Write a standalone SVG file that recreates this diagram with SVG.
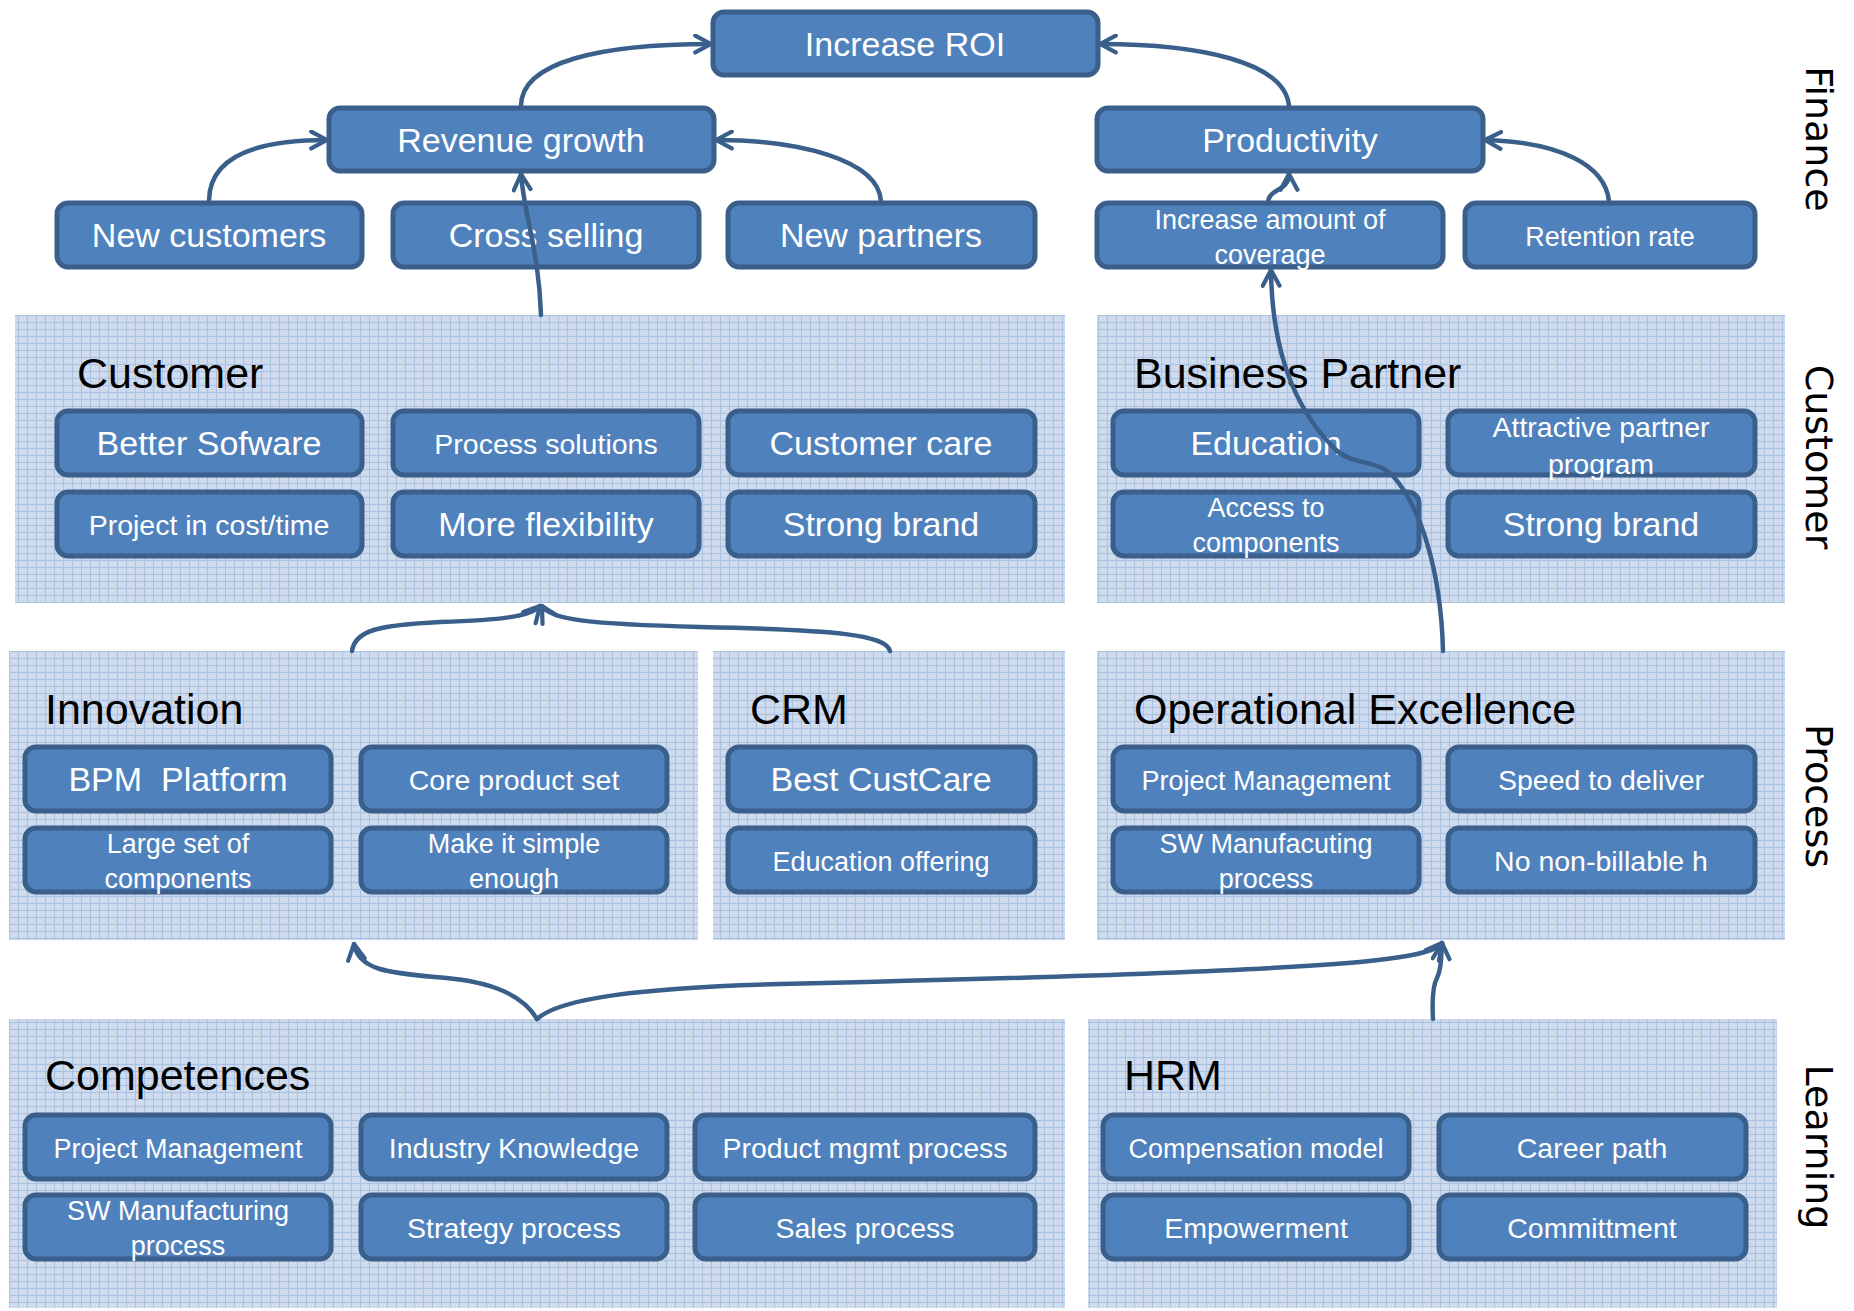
<svg xmlns="http://www.w3.org/2000/svg" width="1854" height="1311" viewBox="0 0 1854 1311">
  <defs>
    <style>
      .node rect { fill: #4F81BD; stroke: #3A5F8B; stroke-width: 5; }
      .node text { fill: #FFFFFF; font-family: "Liberation Sans", Arial, sans-serif; text-anchor: middle; }
      .lg { font-size: 34px; }
      .md { font-size: 28.5px; }
      .sm { font-size: 27px; }
      .panel rect { fill: url(#grid); }
      .panel text { fill: #000000; font-family: "Liberation Sans", Arial, sans-serif; font-size: 43px; }
      .side { fill: #000000; font-family: "DejaVu Sans", Verdana, sans-serif; font-size: 38px; text-anchor: middle; }
      .conn path { fill: none; stroke: #3A5F8B; stroke-width: 4.5; stroke-linecap: round; marker-end: url(#arrow); }
    </style>
    <pattern id="grid" width="9" height="7" patternUnits="userSpaceOnUse">
      <rect width="9" height="7" fill="#CDDAEE"/>
      <path d="M0,0.5 H9 M0.5,0 V7" stroke="#ABC1E0" stroke-width="1"/>
      <path d="M2,3.5 H8" stroke="#DCE6F3" stroke-width="1" stroke-dasharray="1,1"/>
    </pattern>
    <marker id="arrow" viewBox="0 0 20 20" refX="18" refY="10" markerWidth="21" markerHeight="21" markerUnits="userSpaceOnUse" orient="auto">
      <path d="M3,2 L18,10 L3,18" fill="none" stroke="#3A5F8B" stroke-width="4" stroke-linecap="round" stroke-linejoin="round"/>
    </marker>
  </defs>

  <rect width="1854" height="1311" fill="#FFFFFF"/>

  <!-- Perspective panels -->
  <g id="panel-customer" class="panel"><rect x="15" y="315" width="1050" height="288"/><text x="77" y="388">Customer</text></g>
  <g id="panel-business-partner" class="panel"><rect x="1097" y="315" width="688" height="288"/><text x="1134" y="388">Business Partner</text></g>
  <g id="panel-innovation" class="panel"><rect x="9" y="651" width="689" height="289"/><text x="45" y="724">Innovation</text></g>
  <g id="panel-crm" class="panel"><rect x="713" y="651" width="352" height="289"/><text x="750" y="724">CRM</text></g>
  <g id="panel-opex" class="panel"><rect x="1097" y="651" width="688" height="289"/><text x="1134" y="724">Operational Excellence</text></g>
  <g id="panel-competences" class="panel"><rect x="9" y="1019" width="1056" height="289"/><text x="45" y="1090">Competences</text></g>
  <g id="panel-hrm" class="panel"><rect x="1088" y="1019" width="689" height="289"/><text x="1124" y="1090">HRM</text></g>

  <!-- Finance -->
  <g id="increase-roi" class="node"><rect x="713" y="12" width="385" height="63" rx="11"/><text class="lg" x="905" y="56">Increase ROI</text></g>
  <g id="revenue-growth" class="node"><rect x="329" y="108" width="385" height="63" rx="11"/><text class="lg" x="521" y="152">Revenue growth</text></g>
  <g id="productivity" class="node"><rect x="1097" y="108" width="386" height="63" rx="11"/><text class="lg" x="1290" y="152">Productivity</text></g>
  <g id="new-customers" class="node"><rect x="57" y="203" width="305" height="64" rx="11"/><text class="lg" x="209" y="247">New customers</text></g>
  <g id="cross-selling" class="node"><rect x="393" y="203" width="306" height="64" rx="11"/><text class="lg" x="546" y="247">Cross selling</text></g>
  <g id="new-partners" class="node"><rect x="728" y="203" width="307" height="64" rx="11"/><text class="lg" x="881" y="247">New partners</text></g>
  <g id="increase-coverage" class="node"><rect x="1097" y="203" width="346" height="64" rx="11"/><text class="sm" x="1270" y="229">Increase amount of</text><text class="sm" x="1270" y="264">coverage</text></g>
  <g id="retention-rate" class="node"><rect x="1465" y="203" width="290" height="64" rx="11"/><text class="sm" x="1610" y="246">Retention rate</text></g>

  <!-- Customer -->
  <g id="better-software" class="node"><rect x="57" y="411" width="305" height="64" rx="11"/><text class="lg" x="209" y="455">Better Sofware</text></g>
  <g id="process-solutions" class="node"><rect x="393" y="411" width="306" height="64" rx="11"/><text class="md" x="546" y="454">Process solutions</text></g>
  <g id="customer-care" class="node"><rect x="728" y="411" width="307" height="64" rx="11"/><text class="lg" x="881" y="455">Customer care</text></g>
  <g id="project-cost-time" class="node"><rect x="57" y="492" width="305" height="64" rx="11"/><text class="md" x="209" y="535">Project in cost/time</text></g>
  <g id="more-flexibility" class="node"><rect x="393" y="492" width="306" height="64" rx="11"/><text class="lg" x="546" y="536">More flexibility</text></g>
  <g id="strong-brand-customer" class="node"><rect x="728" y="492" width="307" height="64" rx="11"/><text class="lg" x="881" y="536">Strong brand</text></g>

  <!-- Business Partner -->
  <g id="education" class="node"><rect x="1113" y="411" width="306" height="64" rx="11"/><text class="lg" x="1266" y="455">Education</text></g>
  <g id="partner-program" class="node"><rect x="1448" y="411" width="307" height="64" rx="11"/><text class="md" x="1601" y="437">Attractive partner</text><text class="md" x="1601" y="474">program</text></g>
  <g id="access-components" class="node"><rect x="1113" y="492" width="306" height="64" rx="11"/><text class="sm" x="1266" y="517">Access to</text><text class="sm" x="1266" y="552">components</text></g>
  <g id="strong-brand-partner" class="node"><rect x="1448" y="492" width="307" height="64" rx="11"/><text class="lg" x="1601" y="536">Strong brand</text></g>

  <!-- Innovation -->
  <g id="bpm-platform" class="node"><rect x="25" y="747" width="306" height="64" rx="11"/><text class="lg" x="178" y="791" xml:space="preserve">BPM  Platform</text></g>
  <g id="core-product-set" class="node"><rect x="361" y="747" width="306" height="64" rx="11"/><text class="md" x="514" y="790">Core product set</text></g>
  <g id="large-set-components" class="node"><rect x="25" y="828" width="306" height="64" rx="11"/><text class="sm" x="178" y="853">Large set of</text><text class="sm" x="178" y="888">components</text></g>
  <g id="make-it-simple" class="node"><rect x="361" y="828" width="306" height="64" rx="11"/><text class="sm" x="514" y="853">Make it simple</text><text class="sm" x="514" y="888">enough</text></g>

  <!-- CRM -->
  <g id="best-custcare" class="node"><rect x="728" y="747" width="307" height="64" rx="11"/><text class="lg" x="881" y="791">Best CustCare</text></g>
  <g id="education-offering" class="node"><rect x="728" y="828" width="307" height="64" rx="11"/><text class="sm" x="881" y="871">Education offering</text></g>

  <!-- Operational Excellence -->
  <g id="project-management-ops" class="node"><rect x="1113" y="747" width="306" height="64" rx="11"/><text class="sm" x="1266" y="790">Project Management</text></g>
  <g id="speed-to-deliver" class="node"><rect x="1448" y="747" width="307" height="64" rx="11"/><text class="md" x="1601" y="790">Speed to deliver</text></g>
  <g id="sw-manufacuting" class="node"><rect x="1113" y="828" width="306" height="64" rx="11"/><text class="sm" x="1266" y="853">SW Manufacuting</text><text class="sm" x="1266" y="888">process</text></g>
  <g id="no-non-billable" class="node"><rect x="1448" y="828" width="307" height="64" rx="11"/><text class="md" x="1601" y="871">No non-billable h</text></g>

  <!-- Competences -->
  <g id="project-management-comp" class="node"><rect x="25" y="1115" width="306" height="64" rx="11"/><text class="sm" x="178" y="1158">Project Management</text></g>
  <g id="industry-knowledge" class="node"><rect x="361" y="1115" width="306" height="64" rx="11"/><text class="md" x="514" y="1158">Industry Knowledge</text></g>
  <g id="product-mgmt-process" class="node"><rect x="695" y="1115" width="340" height="64" rx="11"/><text class="md" x="865" y="1158">Product mgmt process</text></g>
  <g id="sw-manufacturing" class="node"><rect x="25" y="1195" width="306" height="64" rx="11"/><text class="sm" x="178" y="1220">SW Manufacturing</text><text class="sm" x="178" y="1255">process</text></g>
  <g id="strategy-process" class="node"><rect x="361" y="1195" width="306" height="64" rx="11"/><text class="md" x="514" y="1238">Strategy process</text></g>
  <g id="sales-process" class="node"><rect x="695" y="1195" width="340" height="64" rx="11"/><text class="md" x="865" y="1238">Sales process</text></g>

  <!-- HRM -->
  <g id="compensation-model" class="node"><rect x="1103" y="1115" width="306" height="64" rx="11"/><text class="sm" x="1256" y="1158">Compensation model</text></g>
  <g id="career-path" class="node"><rect x="1439" y="1115" width="307" height="64" rx="11"/><text class="md" x="1592" y="1158">Career path</text></g>
  <g id="empowerment" class="node"><rect x="1103" y="1195" width="306" height="64" rx="11"/><text class="md" x="1256" y="1238">Empowerment</text></g>
  <g id="committment" class="node"><rect x="1439" y="1195" width="307" height="64" rx="11"/><text class="md" x="1592" y="1238">Committment</text></g>

  <!-- Connectors -->
  <g id="connectors" class="conn">
    <path d="M521,106 C521,62 600,44 711,44"/>
    <path d="M1289,106 C1285,62 1200,44 1100,44"/>
    <path d="M209,201 C209,160 250,140 327,140"/>
    <path d="M881,201 C878,160 800,140 716,140"/>
    <path d="M1609,201 C1605,165 1560,142 1485,140"/>
    <path d="M1268,203 C1268,188 1289,192 1289,174"/>
    <path d="M541,315 C539,250 524,215 521,174"/>
    <path d="M1443,651 C1441,570 1420,505 1392,475 C1378,460 1352,465 1336,450 C1300,415 1272,360 1271,270"/>
    <path d="M537,1019 C520,990 480,980 435,977 C390,973 358,970 354,944"/>
    <path d="M537,1019 C560,998 640,988 780,984 C1000,979 1250,972 1360,962 C1410,957 1435,952 1442,943"/>
    <path d="M1433,1019 C1432,1000 1433,985 1437,978 C1441,970 1441,960 1442,943"/>
    <path d="M352,651 C355,630 380,625 440,622 C500,620 530,617 540,606"/>
    <path d="M890,651 C885,635 840,630 700,627 C590,624 550,620 542,606"/>
  </g>

  <!-- Perspective titles -->
  <g id="side-labels">
    <text class="side" x="1806" y="139" transform="rotate(90 1806 139)">Finance</text>
    <text class="side" x="1806" y="457" transform="rotate(90 1806 457)">Customer</text>
    <text class="side" x="1806" y="796" transform="rotate(90 1806 796)">Process</text>
    <text class="side" x="1806" y="1147" transform="rotate(90 1806 1147)">Learning</text>
  </g>
</svg>
